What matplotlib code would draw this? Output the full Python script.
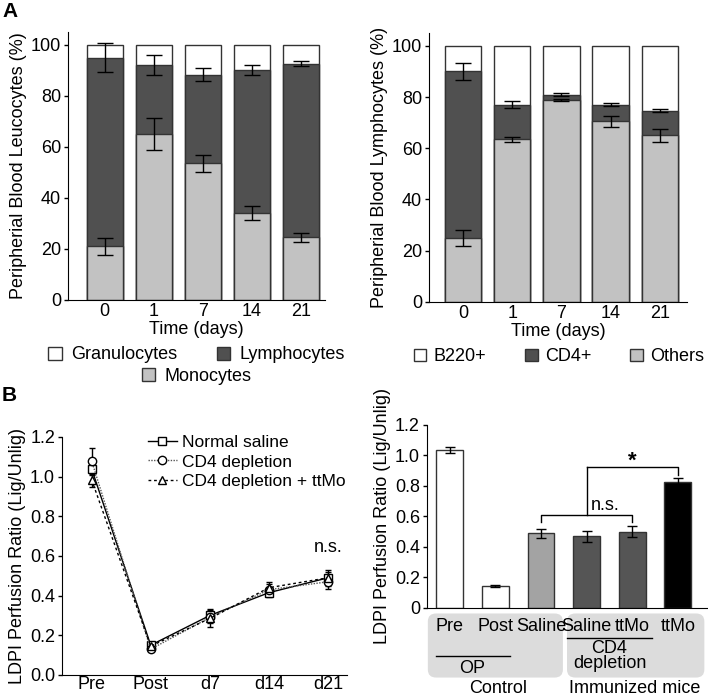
import matplotlib
matplotlib.use('Agg')
import matplotlib.pyplot as plt
from matplotlib.patches import Patch, FancyBboxPatch
from matplotlib.lines import Line2D
import numpy as np

plt.rcParams['font.family'] = ['Liberation Sans', 'DejaVu Sans']
plt.rcParams['font.size'] = 13

# ---- dados painel A (leucócitos) ----
dias = ['0', '1', '7', '14', '21']
monocitos = [21, 65, 53.5, 34, 24.5]
monocitos_err = [3.2, 6.3, 3.2, 2.8, 1.8]
linfocitos_topo = [95, 92, 88.3, 90, 92.5]
linfocitos_err = [5.8, 4.0, 2.5, 2.0, 1.0]

# ---- dados painel A (linfócitos) ----
outros = [25, 63.5, 79, 70.5, 65]
outros_err = [3.2, 0.9, 0.4, 2.1, 2.5]
cd4_topo = [90, 77, 81, 77, 74.7]
cd4_err = [3.5, 1.3, 0.4, 0.5, 0.5]

# ---- dados painel B (linhas) ----
tempos = ['Pre', 'Post', 'd7', 'd14', 'd21']
salina = [1.04, 0.15, 0.30, 0.415, 0.49]
salina_err = [0.03, 0.01, 0.035, 0.02, 0.03]
cd4_dep = [1.08, 0.13, 0.29, 0.43, 0.47]
cd4_dep_err = [0.065, 0.01, 0.03, 0.03, 0.035]
cd4_ttmo = [0.985, 0.145, 0.285, 0.44, 0.49]
cd4_ttmo_err = [0.035, 0.01, 0.045, 0.03, 0.04]

# ---- dados painel B (barras) ----
grupos = ['Pre', 'Post', 'Saline', 'Saline', 'ttMo', 'ttMo']
razao = [1.035, 0.145, 0.49, 0.47, 0.50, 0.825]
razao_err = [0.02, 0.008, 0.03, 0.035, 0.035, 0.03]
cores_barras = ['white', 'white', '#a3a3a3', '#555555', '#555555', 'black']

CINZA = '#c2c2c2'
ESCURO = '#505050'
BORDA = '#333333'

fig = plt.figure(figsize=(7.08, 6.97), dpi=100)

def estilo(ax):
    ax.spines['top'].set_visible(False)
    ax.spines['right'].set_visible(False)
    ax.tick_params(direction='out', length=3, width=1, pad=2)

# POSIÇÃO 01 - leucócitos
ax1 = fig.add_axes([0.096, 0.5696, 0.363, 0.3845])
x = np.arange(len(dias))
w = 0.74
ax1.bar(x, 100, w, color='white', edgecolor=BORDA, linewidth=1)
ax1.bar(x, linfocitos_topo, w, color=ESCURO, edgecolor=BORDA, linewidth=1)
ax1.bar(x, monocitos, w, color=CINZA, edgecolor=BORDA, linewidth=1)
ax1.errorbar(x, linfocitos_topo, yerr=linfocitos_err, fmt='none', ecolor='black', capsize=6, elinewidth=1)
ax1.errorbar(x, monocitos, yerr=monocitos_err, fmt='none', ecolor='black', capsize=6, elinewidth=1)
ax1.set_xlim(-0.75, 4.49)
ax1.set_ylim(0, 105)
ax1.set_yticks([0, 20, 40, 60, 80, 100])
ax1.set_xticks(x)
ax1.set_xticklabels(dias)
estilo(ax1)
ax1.tick_params(axis='x', length=0)
ax1.set_xlabel('Time (days)', labelpad=1)
ax1.set_ylabel('Peripherial Blood Leucocytes (%)', labelpad=3)
leg1 = ax1.legend(handles=[Patch(facecolor='white', edgecolor=BORDA, label='Granulocytes'),
                           Patch(facecolor=ESCURO, edgecolor=BORDA, label='Lymphocytes')],
                  ncol=2, loc='center', bbox_to_anchor=(0.5, -0.205), frameon=False,
                  handlelength=0.75, handleheight=0.75, handletextpad=0.5, columnspacing=2.2,
                  borderpad=0, borderaxespad=0)
ax1.add_artist(leg1)
ax1.legend(handles=[Patch(facecolor=CINZA, edgecolor=BORDA, label='Monocytes')],
           loc='center', bbox_to_anchor=(0.5, -0.284), frameon=False,
           handlelength=0.75, handleheight=0.75, handletextpad=0.5, borderpad=0, borderaxespad=0)

# POSIÇÃO 02 - linfócitos
ax2 = fig.add_axes([0.606, 0.567, 0.364, 0.3855])
ax2.bar(x, 100, w, color='white', edgecolor=BORDA, linewidth=1)
ax2.bar(x, cd4_topo, w, color=ESCURO, edgecolor=BORDA, linewidth=1)
ax2.bar(x, outros, w, color=CINZA, edgecolor=BORDA, linewidth=1)
ax2.errorbar(x, cd4_topo, yerr=cd4_err, fmt='none', ecolor='black', capsize=6, elinewidth=1)
ax2.errorbar(x, outros, yerr=outros_err, fmt='none', ecolor='black', capsize=6, elinewidth=1)
ax2.set_xlim(-0.69, 4.55)
ax2.set_ylim(0, 105)
ax2.set_yticks([0, 20, 40, 60, 80, 100])
ax2.set_xticks(x)
ax2.set_xticklabels(dias)
estilo(ax2)
ax2.tick_params(axis='x', length=0)
ax2.set_xlabel('Time (days)', labelpad=1)
ax2.set_ylabel('Peripherial Blood Lymphocytes (%)', labelpad=3)
ax2.legend(handles=[Patch(facecolor='white', edgecolor=BORDA, label='B220+'),
                    Patch(facecolor=ESCURO, edgecolor=BORDA, label='CD4+'),
                    Patch(facecolor=CINZA, edgecolor=BORDA, label='Others')],
           ncol=3, loc='center left', bbox_to_anchor=(-0.06, -0.205), frameon=False,
           handlelength=0.7, handleheight=0.7, handletextpad=0.4, columnspacing=2.15,
           borderpad=0, borderaxespad=0)

# POSIÇÃO 03 - linhas
ax3 = fig.add_axes([0.0876, 0.0316, 0.4025, 0.3415])
xt = np.arange(len(tempos))
ax3.errorbar(xt, salina, yerr=salina_err, color='black', lw=1, ls='-', marker='s', ms=6,
             mfc='white', mec='black', capsize=2.5, elinewidth=1)
ax3.errorbar(xt, cd4_dep, yerr=cd4_dep_err, color='#555555', lw=1, ls=(0, (1, 1)), marker='o', ms=6,
             mfc='white', mec='black', ecolor='black', capsize=2.5, elinewidth=1)
ax3.errorbar(xt, cd4_ttmo, yerr=cd4_ttmo_err, color='black', lw=1, ls=(0, (2, 2)), marker='^', ms=6,
             mfc='white', mec='black', capsize=2.5, elinewidth=1)
ax3.set_xlim(-0.5, 4.32)
ax3.set_ylim(0, 1.2)
ax3.set_yticks([0, 0.2, 0.4, 0.6, 0.8, 1.0, 1.2])
ax3.set_yticklabels(['0.0', '0.2', '0.4', '0.6', '0.8', '1.0', '1.2'])
ax3.set_xticks(xt)
ax3.set_xticklabels(tempos)
estilo(ax3)
ax3.tick_params(axis='x', length=0, pad=1)
ax3.set_ylabel('LDPI Perfusion Ratio (Lig/Unlig)', labelpad=3)
ax3.text(4, 0.645, 'n.s.', ha='center', va='center')
handles = [Line2D([], [], color='black', lw=1, ls='-', marker='s', ms=6, mfc='white', mec='black'),
           Line2D([], [], color='#555555', lw=1, ls=(0, (1, 1)), marker='o', ms=6, mfc='white', mec='black'),
           Line2D([], [], color='black', lw=1, ls=(0, (2, 2)), marker='^', ms=6, mfc='white', mec='black')]
ax3.legend(handles, ['Normal saline', 'CD4 depletion', 'CD4 depletion + ttMo'],
           loc='upper left', bbox_to_anchor=(0.27, 1.045), frameon=False, fontsize=12.5,
           handlelength=1.7, handletextpad=0.3, labelspacing=0.25, borderpad=0)

# POSIÇÃO 04 - barras
ax4 = fig.add_axes([0.603, 0.1277, 0.397, 0.2626])
xb = np.arange(len(grupos))
ax4.bar(xb, razao, 0.59, color=cores_barras, edgecolor=BORDA, linewidth=1)
ax4.errorbar(xb, razao, yerr=razao_err, fmt='none', ecolor='black', capsize=3.5, elinewidth=1)
ax4.set_xlim(-0.5, 5.66)
ax4.set_ylim(0, 1.2)
ax4.set_yticks([0, 0.2, 0.4, 0.6, 0.8, 1.0, 1.2])
ax4.set_yticklabels(['0', '0.2', '0.4', '0.6', '0.8', '1.0', '1.2'])
ax4.set_xticks([])
ax4.set_ylabel('LDPI Perfusion Ratio (Lig/Unlig)', labelpad=3)
estilo(ax4)

# colchetes de significância
ax4.plot([2, 2, 4, 4], [0.565, 0.61, 0.61, 0.565], color='black', lw=1)
ax4.plot([3, 3], [0.61, 0.925], color='black', lw=1)
ax4.plot([3, 5, 5], [0.925, 0.925, 0.875], color='black', lw=1)
ax4.text(3.4, 0.67, 'n.s.', ha='center', va='center')
ax4.text(4.0, 0.96, '*', ha='center', va='center', fontsize=16, fontweight='bold')

# caixas cinzas com os rótulos
tr = ax4.get_xaxis_transform()
for x0, x1 in [(-0.48, 2.48), (2.57, 5.58)]:
    ax4.add_patch(FancyBboxPatch((x0, -0.38), x1 - x0, 0.35, boxstyle='round,pad=0,rounding_size=0.18',
                                 transform=tr, facecolor='#dcdcdc', edgecolor='none', clip_on=False,
                                 mutation_aspect=0.243))
for xi, g in zip(xb, grupos):
    ax4.text(xi, -0.1, g, transform=tr, ha='center', va='center')
ax4.plot([-0.31, 1.32], [-0.26, -0.26], transform=tr, color='black', lw=1, clip_on=False)
ax4.text(0.5, -0.33, 'OP', transform=tr, ha='center', va='center')
ax4.plot([2.57, 4.44], [-0.164, -0.164], transform=tr, color='black', lw=1, clip_on=False)
ax4.text(3.5, -0.26, 'CD4\ndepletion', transform=tr, ha='center', va='center', linespacing=0.85)
ax4.text(1.05, -0.44, 'Control', transform=tr, ha='center', va='center')
ax4.text(4.05, -0.44, 'Immunized mice', transform=tr, ha='center', va='center')

fig.text(0.003, 0.983, 'A', fontsize=15, fontweight='bold', va='center')
fig.text(0.003, 0.433, 'B', fontsize=15, fontweight='bold', va='center')

fig.savefig('out.png', dpi=100)
